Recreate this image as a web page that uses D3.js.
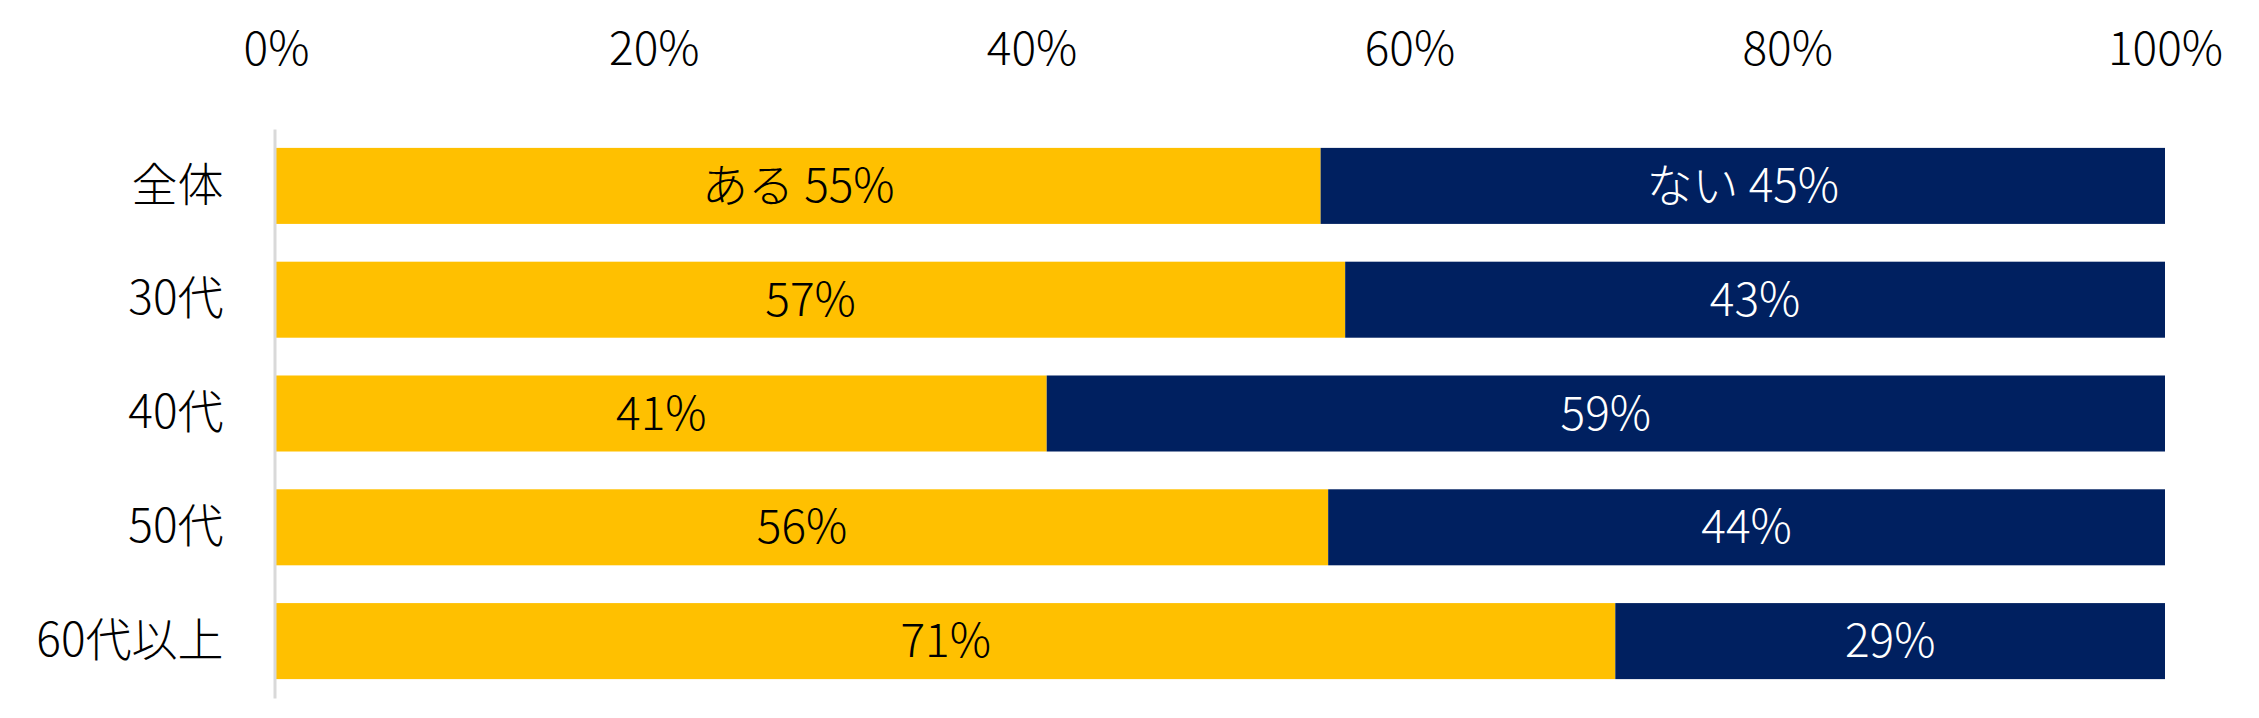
<!DOCTYPE html>
<html>
<head lang="ja">
    <meta charset="UTF-8">
    <title>ある・ない</title>
    <script src="https://d3js.org/d3.v7.min.js" charset="utf-8"></script>
    <style type="text/css">
        body {
            margin: 0;
            background: #ffffff;
        }
        text {
            font-family: "Noto Sans CJK JP", "Noto Sans", sans-serif;
            font-weight: 300;
        }
    </style>
</head>
<body>

<svg id="svg" width="2259" height="718"></svg>

<script>
    // data
    var categories = ["全体", "30代", "40代", "50代", "60代以上"];
    var aruValues = [55.3, 56.6, 40.8, 55.7, 70.9];
    var naiValues = [44.7, 43.4, 59.2, 44.3, 29.1];
    var seriesNames = ["ある", "ない"];
    var tickValues = [0, 20, 40, 60, 80, 100];

    var colors = {"ある": "#FFC000", "ない": "#002060"};
    var labelColors = {"ある": "#000000", "ない": "#ffffff"};
    var fontSize = 46;

    var svg = d3.select("svg");

    var x = d3.scaleLinear()
            .domain([0, 100])
            .range([276, 2165]);

    var y = d3.scaleBand()
            .domain(categories)
            .range([129, 698])
            .paddingInner(0.332)
            .paddingOuter(0.166);

    // stack rows
    var rows = categories.map(function (c, i) {
        return {"cat": c, "ある": aruValues[i], "ない": naiValues[i]};
    });
    var stacked = d3.stack().keys(seriesNames)(rows);

    var fmt = d3.format(".0f");

    var layers = svg.selectAll("g.layer")
            .data(stacked)
            .enter().append("g")
            .attr("class", "layer");

    layers.selectAll("rect")
            .data(function (d) { return d; })
            .enter().append("rect")
            .attr("x", function (d) { return x(d[0]); })
            .attr("y", function (d) { return y(d.data.cat); })
            .attr("width", function (d) { return x(d[1]) - x(d[0]); })
            .attr("height", y.bandwidth())
            .style("fill", function (d) { return colors[d3.select(this.parentNode).datum().key]; });

    // labels in the bars
    layers.each(function (layer) {
        var key = layer.key;
        d3.select(this).selectAll("text")
                .data(layer)
                .enter().append("text")
                .attr("x", function (d) { return (x(d[0]) + x(d[1])) / 2; })
                .attr("y", function (d) { return y(d.data.cat) + y.bandwidth() / 2; })
                .attr("dy", "0.35em")
                .attr("text-anchor", "middle")
                .style("font-size", fontSize + "px")
                .style("fill", labelColors[key])
                .text(function (d, i) {
                    var v = fmt(d[1] - d[0]) + "%";
                    return i == 0 ? key + " " + v : v;
                });
    });

    // top axis
    var xAxis = d3.axisTop(x)
            .tickValues(tickValues)
            .tickSize(0)
            .tickPadding(0)
            .tickFormat(function (d) { return d + "%"; });

    var gx = svg.append("g")
            .attr("transform", "translate(0,65)")
            .call(xAxis);
    gx.select(".domain").remove();
    gx.selectAll("text")
            .attr("dy", 0)
            .style("font-size", fontSize + "px")
            .style("fill", "#000");

    // category axis
    var yAxis = d3.axisLeft(y).tickSize(0).tickPadding(51);
    var gy = svg.append("g")
            .attr("transform", "translate(274.5,0)")
            .call(yAxis);
    gy.select(".domain")
            .attr("stroke", "#D9D9D9")
            .attr("stroke-width", 3);
    gy.selectAll("text")
            .style("font-size", fontSize + "px")
            .style("fill", "#000");
</script>

</body>
</html>
